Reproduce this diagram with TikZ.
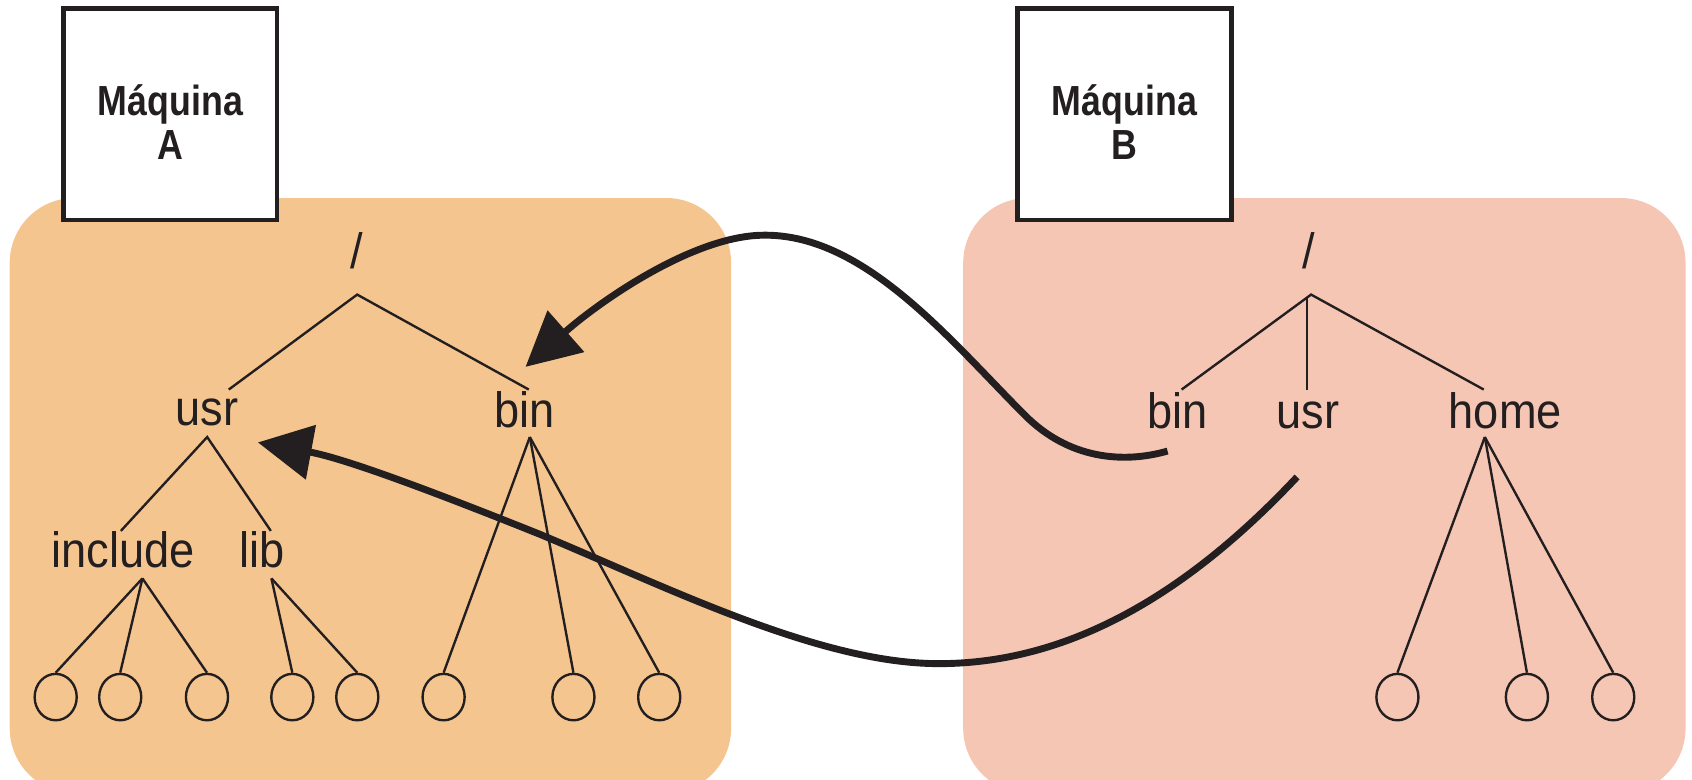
\documentclass[tikz,border=0pt]{standalone}
\usepackage{fontspec}
\setmainfont{Liberation Sans}
\newfontfamily\lblfont[FakeStretch=0.91]{Liberation Sans}
\newfontfamily\boxfont[FakeStretch=0.85]{Liberation Sans}
\usetikzlibrary{arrows.meta,shapes.geometric}
\definecolor{inkc}{HTML}{231F20}
\definecolor{panelorange}{HTML}{F5C58F}
\definecolor{panelpink}{HTML}{F6C6B4}
\begin{document}
\begin{tikzpicture}[x=0.5pt,y=-0.5pt,
  panelA/.style={fill=panelorange, rounded corners=30pt},
  panelB/.style={fill=panelpink, rounded corners=30pt},
  machine/.style={draw=inkc, line width=2.2pt, fill=white, rectangle,
                  minimum width=99pt, minimum height=98pt, inner sep=0pt},
  machinetext/.style={font=\boxfont\bfseries\fontsize{19.5}{22}\selectfont, text=inkc, anchor=base, inner sep=0pt},
  lbl/.style={font=\lblfont\fontsize{23}{27}\selectfont, text=inkc, anchor=base, inner sep=0pt},
  branch/.style={draw=inkc, line width=1.1pt},
  leaf/.style={ellipse, draw=inkc, line width=1.1pt, minimum width=19.5pt,
               minimum height=21.5pt, inner sep=0pt},
  bigarrow/.style={draw=inkc, line width=3.2pt, -{Triangle[length=25pt,width=25pt]}}
]
\useasboundingbox (0,0) rectangle (1568,722);

% panels
\fill[panelA] (9,183.5) rectangle (677.5,735);
\fill[panelB] (892.6,183.5) rectangle (1562,735);

% machine boxes
\node[machine] (boxA) at (157.8,105.8) {};
\node[machinetext] (tA1) at (158,107) {Máquina};
\node[machinetext] (tA2) at (158,148) {A};
\node[machine] (boxB) at (1042,105.8) {};
\node[machinetext] (tB1) at (1042,107) {Máquina};
\node[machinetext] (tB2) at (1042,148) {B};

% ---------- tree A ----------
\node[lbl] (rootA) at (331,249) {/};
\node[lbl] (usrA) at (192,394) {usr};
\node[lbl] (binA) at (486,396) {bin};
\node[lbl] (incA) at (114,526) {include};
\node[lbl] (libA) at (243,526) {lib};

\coordinate (jA) at (331,273);
\coordinate (eUsrA) at (212,361);
\coordinate (eBinA) at (490,361);
\coordinate (jUsrA) at (192,405);
\coordinate (eIncA) at (112,492);
\coordinate (eLibA) at (251,492);
\coordinate (jIncA) at (132,536);
\coordinate (jLibA) at (251.5,536);
\coordinate (jBinA) at (491,405);

\node[leaf] (la1) at (51.6,646) {};
\node[leaf] (la2) at (111.4,646) {};
\node[leaf] (la3) at (191.8,646) {};
\node[leaf] (la4) at (270.9,646) {};
\node[leaf] (la5) at (331.1,646) {};
\node[leaf] (la6) at (411.1,646) {};
\node[leaf] (la7) at (531.4,646) {};
\node[leaf] (la8) at (610.9,646) {};

\draw[branch] (eUsrA) -- (jA) -- (eBinA);
\draw[branch] (eIncA) -- (jUsrA) -- (eLibA);
\draw[branch] (jIncA) -- (la1.north);
\draw[branch] (jIncA) -- (la2.north);
\draw[branch] (jIncA) -- (la3.north);
\draw[branch] (jLibA) -- (la4.north);
\draw[branch] (jLibA) -- (la5.north);
\draw[branch] (jBinA) -- (la6.north);
\draw[branch] (jBinA) -- (la7.north);
\draw[branch] (jBinA) -- (la8.north);

% ---------- tree B ----------
\node[lbl] (rootB) at (1213,249) {/};
\node[lbl] (binB) at (1091,397) {bin};
\node[lbl] (usrB) at (1212,397) {usr};
\node[lbl] (homeB) at (1395,397) {home};

\coordinate (jB) at (1215,273);
\coordinate (eBinB) at (1095,361);
\coordinate (eUsrBtop) at (1211,275);
\coordinate (eUsrB) at (1211,361);
\coordinate (eHomeB) at (1375,361);
\coordinate (jHomeB) at (1376,405);

\node[leaf] (lb1) at (1295,646) {};
\node[leaf] (lb2) at (1415,646) {};
\node[leaf] (lb3) at (1495,646) {};

\draw[branch] (eBinB) -- (jB) -- (eHomeB);
\draw[branch] (eUsrBtop) -- (eUsrB);
\draw[branch] (jHomeB) -- (lb1.north);
\draw[branch] (jHomeB) -- (lb2.north);
\draw[branch] (jHomeB) -- (lb3.north);

% ---------- mount arrows ----------
\coordinate (s1) at (1082,418);
\coordinate (t1) at (487,340);
\coordinate (s2) at (1202,442);
\coordinate (t2) at (239,410);

\draw[bigarrow] (s1) .. controls (1040,430) and (990,425) .. (950,385)
   .. controls (880,315) and (800,215) .. (705,218)
   .. controls (640,220) and (555,280) .. (t1);
\draw[bigarrow] (s2) .. controls (1110,540) and (1000,615) .. (870,615)
   .. controls (760,615) and (620,545) .. (500,495)
   .. controls (400,455) and (320,425) .. (t2);
\end{tikzpicture}
\end{document}
